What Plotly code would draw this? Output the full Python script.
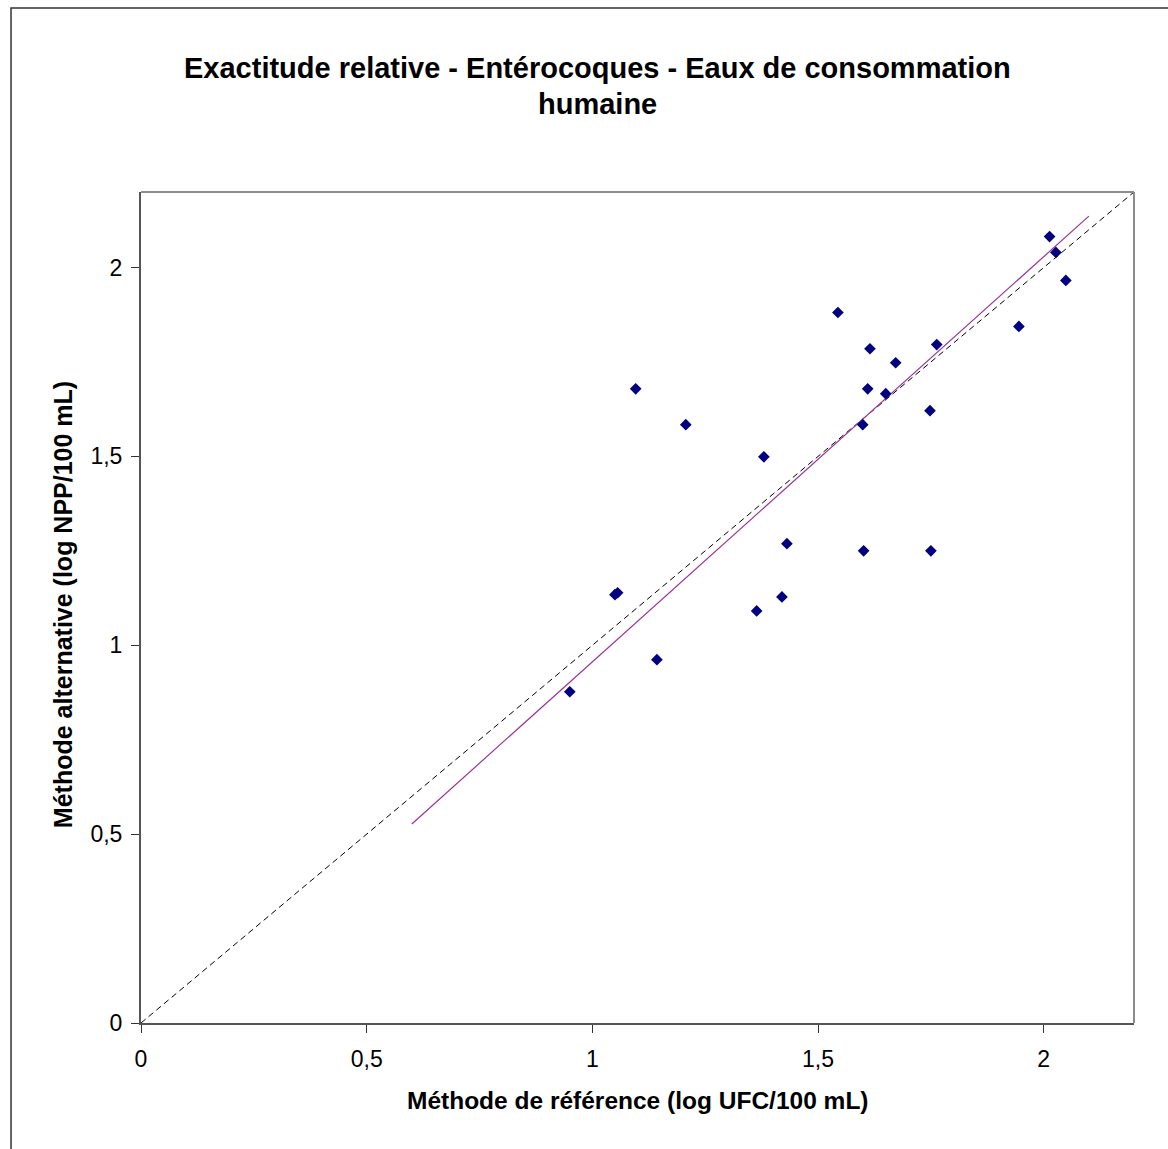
import plotly.graph_objects as go

# Data
ref_x = [0.950, 1.050, 1.056, 1.096, 1.143, 1.207, 1.364, 1.380, 1.420, 1.431,
         1.544, 1.599, 1.601, 1.610, 1.615, 1.650, 1.672, 1.748, 1.750, 1.763,
         1.945, 2.013, 2.027, 2.049]
alt_y = [0.877, 1.134, 1.139, 1.679, 0.962, 1.584, 1.091, 1.499, 1.128, 1.269,
         1.881, 1.584, 1.250, 1.679, 1.785, 1.666, 1.748, 1.621, 1.250, 1.796,
         1.844, 2.082, 2.040, 1.966]

identity_x = [0, 2.2]
identity_y = [0, 2.2]

reg_x = [0.6, 2.1]
reg_y = [0.527, 2.136]

tick_vals = [0, 0.5, 1, 1.5, 2]
tick_text = ["0", "0,5", "1", "1,5", "2"]

title_line1 = "Exactitude relative - Entérocoques - Eaux de consommation"
title_line2 = "humaine"
x_title = "Méthode de référence (log UFC/100 mL)"
y_title = "Méthode alternative (log NPP/100 mL)"

FONT = "Liberation Sans, Arial, sans-serif"

fig = go.Figure()
fig.add_trace(go.Scatter(x=identity_x, y=identity_y, mode="lines",
                         line=dict(color="black", width=1, dash="6px,4px"),
                         hoverinfo="skip", showlegend=False))
fig.add_trace(go.Scatter(x=reg_x, y=reg_y, mode="lines",
                         line=dict(color="#993399", width=1.2),
                         hoverinfo="skip", showlegend=False))
fig.add_trace(go.Scatter(x=ref_x, y=alt_y, mode="markers",
                         marker=dict(symbol="diamond", size=9, color="#000080",
                                     line=dict(width=0)),
                         showlegend=False))

axis_common = dict(
    showgrid=False, zeroline=False, showline=True, linecolor="#555555", linewidth=2,
    ticks="outside", ticklen=8, tickwidth=1, tickcolor="#333333",
    tickvals=tick_vals, ticktext=tick_text,
    tickfont=dict(family=FONT, size=23, color="black"),
    range=[0, 2.2], fixedrange=True,
)

fig.update_layout(
    width=1168, height=1149,
    margin=dict(l=141, r=34, t=192, b=126),
    paper_bgcolor="white", plot_bgcolor="white",
    xaxis=dict(**axis_common, ticklabelstandoff=6),
    yaxis=dict(**axis_common, ticklabelstandoff=4),
    font=dict(family=FONT, color="black"),
    shapes=[
        # top and right plot frame
        dict(type="line", xref="paper", yref="paper", x0=0, x1=1, y0=1, y1=1,
             line=dict(color="#8c8c8c", width=2)),
        dict(type="line", xref="paper", yref="paper", x0=1, x1=1, y0=0, y1=1,
             line=dict(color="#8c8c8c", width=2)),
        # outer chart border
        dict(type="rect", xref="paper", yref="paper",
             x0=-0.1309, x1=1.06, y0=-0.2, y1=1.2214,
             line=dict(color="#333333", width=1.5), layer="below"),
    ],
    annotations=[
        dict(text=f"<b>{title_line1}</b>", xref="paper", yref="paper",
             x=0.4602, y=1.1492, xanchor="center", yanchor="middle",
             showarrow=False, font=dict(family=FONT, size=29, color="black")),
        dict(text=f"<b>{title_line2}</b>", xref="paper", yref="paper",
             x=0.4602, y=1.1059, xanchor="center", yanchor="middle",
             showarrow=False, font=dict(family=FONT, size=29, color="black")),
        dict(text=f"<b>{x_title}</b>", xref="paper", yref="paper",
             x=0.5, y=-0.0927, xanchor="center", yanchor="middle",
             showarrow=False, font=dict(family=FONT, size=24.5, color="black")),
        dict(text=f"<b>{y_title}</b>", xref="paper", yref="paper",
             x=-0.0786, y=0.504, xanchor="center", yanchor="middle", textangle=-90,
             showarrow=False, font=dict(family=FONT, size=25, color="black")),
    ],
)

fig.write_html("out.html")
